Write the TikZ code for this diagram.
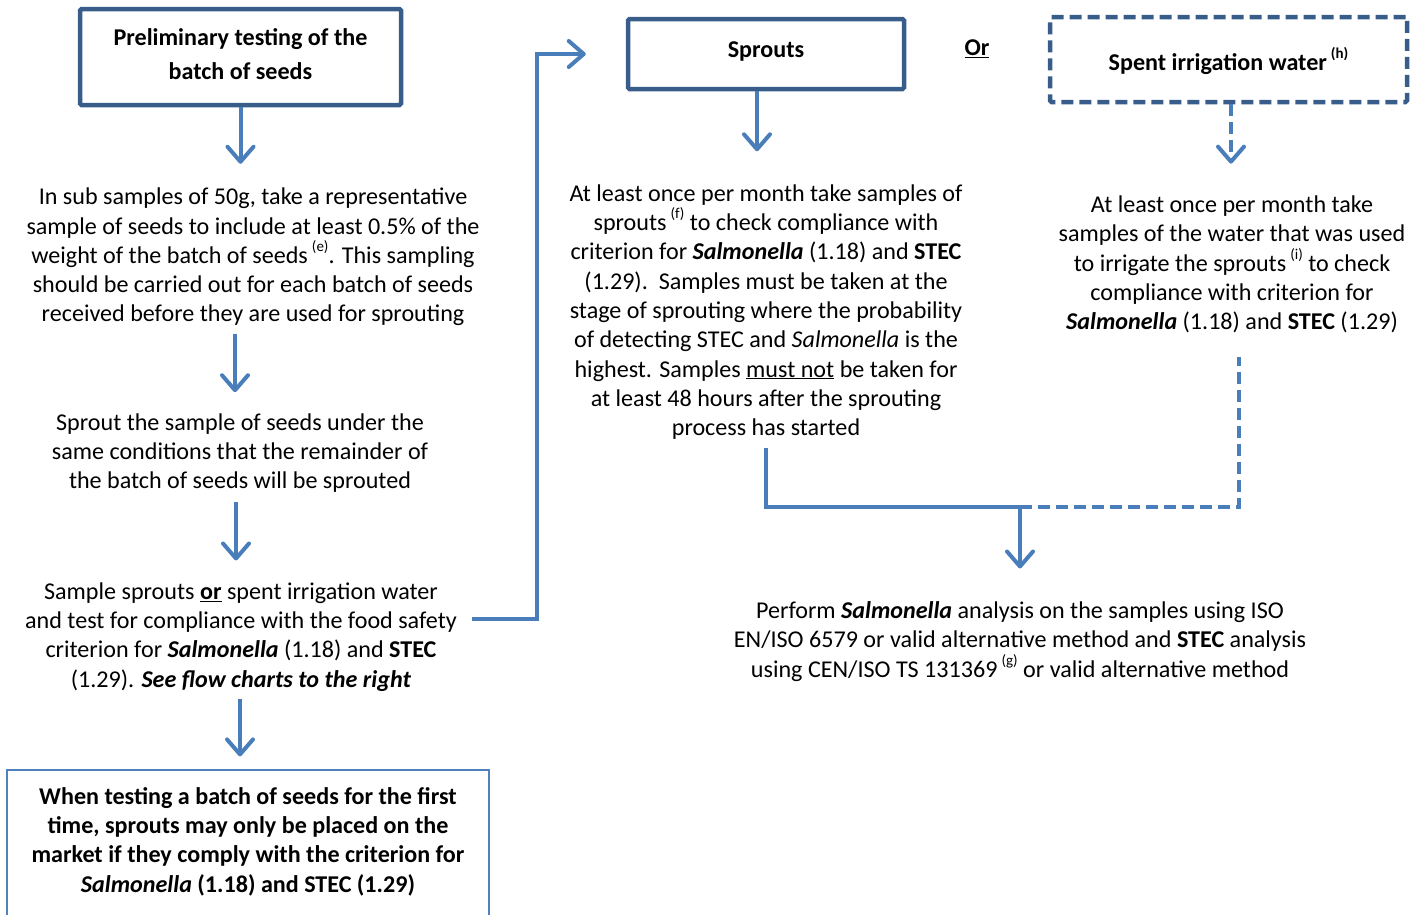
\documentclass[tikz,border=0pt]{standalone}
\usepackage{fontspec}
\setmainfont{Carlito}
\usetikzlibrary{arrows.meta}
\definecolor{boxc}{RGB}{56,93,138}
\definecolor{arrc}{RGB}{74,126,187}
\definecolor{thinc}{RGB}{79,129,189}
\newcommand{\sal}{\textbf{\textit{Salmonella}}}
\newcommand{\sups}[1]{\,\raisebox{0.5em}{\fontsize{15}{15}\selectfont(#1)}}
\begin{document}
\begin{tikzpicture}[x=1pt,y=-1pt,
  txt/.style={align=center, font=\fontsize{24.1}{29.3}\selectfont, inner sep=0pt},
  btxt/.style={align=center, font=\fontsize{24.1}{29.3}\selectfont\bfseries, inner sep=0pt},
  bigbox/.style={draw=boxc, line width=4.5pt, rounded corners=1.5pt, inner sep=0pt},
  dbox/.style={bigbox, dash pattern=on 12pt off 6pt},
  arr/.style={draw=arrc, line width=4pt, -{Straight Barb[length=15pt,width=26pt,line cap=round,line join=round]}},
  conn/.style={draw=arrc, line width=4pt},
  dconn/.style={conn, dash pattern=on 12pt off 6pt},
  darr/.style={arr, dash pattern=on 12pt off 6pt}]
\useasboundingbox (0,0) rectangle (1419,914);

% left column
\node[bigbox, minimum width=321pt, minimum height=96pt] (b1) at (240.5,57) {};
\node[btxt, font=\fontsize{24.1}{34}\selectfont\bfseries] (b1t) at ([yshift=3pt]b1.center) {Preliminary testing of the\\batch of seeds};

\node[txt] (t2) at (253,257) {In sub samples of 50g, take a representative\\sample of seeds to include at least 0.5\% of the\\weight of the batch of seeds\sups{e}. This sampling\\should be carried out for each batch of seeds\\received before they are used for sprouting};

\node[txt] (t3) at (240,453) {Sprout the sample of seeds under the\\same conditions that the remainder of\\the batch of seeds will be sprouted};

\node[txt] (t4) at (241,637) {Sample sprouts \textbf{\underline{or}} spent irrigation water\\and test for compliance with the food safety\\criterion for \sal{} (1.18) and \textbf{STEC}\\(1.29). \textbf{\textit{See flow charts to the right}}};

\node[draw=thinc, line width=1.2pt, minimum width=482pt, minimum height=170pt, inner sep=0pt] (b5) at (248,855) {};
\node[btxt] (t5) at (248,841.5) {When testing a batch of seeds for the first\\time, sprouts may only be placed on the\\market if they comply with the criterion for\\\textit{Salmonella} (1.18) and STEC (1.29)};

% right part
\node[bigbox, minimum width=276pt, minimum height=70pt] (sp) at (766,54) {};
\node[btxt] (spt) at ([yshift=3pt]sp.center) {Sprouts};
\node[btxt] (or) at (977,49) {\underline{Or}};
\node[dbox, minimum width=357pt, minimum height=85pt] (sw) at (1228.5,59.5) {};
\node[btxt] (swt) at ([yshift=-1pt]sw.center) {Spent irrigation water\sups{h}};

\node[txt] (ts) at (766,312) {At least once per month take samples of\\sprouts\sups{f} to check compliance with\\criterion for \sal{} (1.18) and \textbf{STEC}\\(1.29).\ \ Samples must be taken at the\\stage of sprouting where the probability\\of detecting STEC and \textit{Salmonella} is the\\highest. Samples \underline{must not} be taken for\\at least 48 hours after the sprouting\\process has started};

\node[txt] (tw) at (1232,264.5) {At least once per month take\\samples of the water that was used\\to irrigate the sprouts\sups{i} to check\\compliance with criterion for\\\sal{} (1.18) and \textbf{STEC} (1.29)};

\node[txt] (tf) at (1020,641.5) {Perform \sal{} analysis on the samples using ISO\\EN/ISO 6579 or valid alternative method and \textbf{STEC} analysis\\using CEN/ISO TS 131369\sups{g} or valid alternative method};

\coordinate (jog) at (537,54);
\coordinate (m) at (1020,507);

% arrows left column
\draw[arr] (b1.south) -- ([yshift=24pt]b1.south |- t2.north);
\draw[arr] ([xshift=-18pt,yshift=-8pt]t2.south) -- ([xshift=-5pt,yshift=21pt]t3.north);
\draw[arr] ([xshift=-4pt,yshift=-9pt]t3.south) -- ([xshift=-5pt,yshift=22pt]t4.north);
\draw[arr] ([xshift=-1pt,yshift=-7pt]t4.south) -- ([xshift=-8pt,yshift=13pt]b5.north);

% connector to sprouts
\draw[arr] ([xshift=15pt,yshift=18pt]t4.east) -| (jog) -- ([xshift=-40pt]sp.west);

% right arrows
\draw[arr] ([xshift=-9pt]sp.south) -- ([xshift=-9pt,yshift=33pt]ts.north);
\draw[darr] ([xshift=2.5pt]sw.south) -- ([xshift=-1pt,yshift=32pt]tw.north);

\draw[conn] ([yshift=-8pt]ts.south) |- (m);
\draw[dconn] (m) -| ([xshift=7pt,yshift=-24pt]tw.south);
\draw[arr] (m) -- ([yshift=33pt]tf.north);
\end{tikzpicture}
\end{document}
